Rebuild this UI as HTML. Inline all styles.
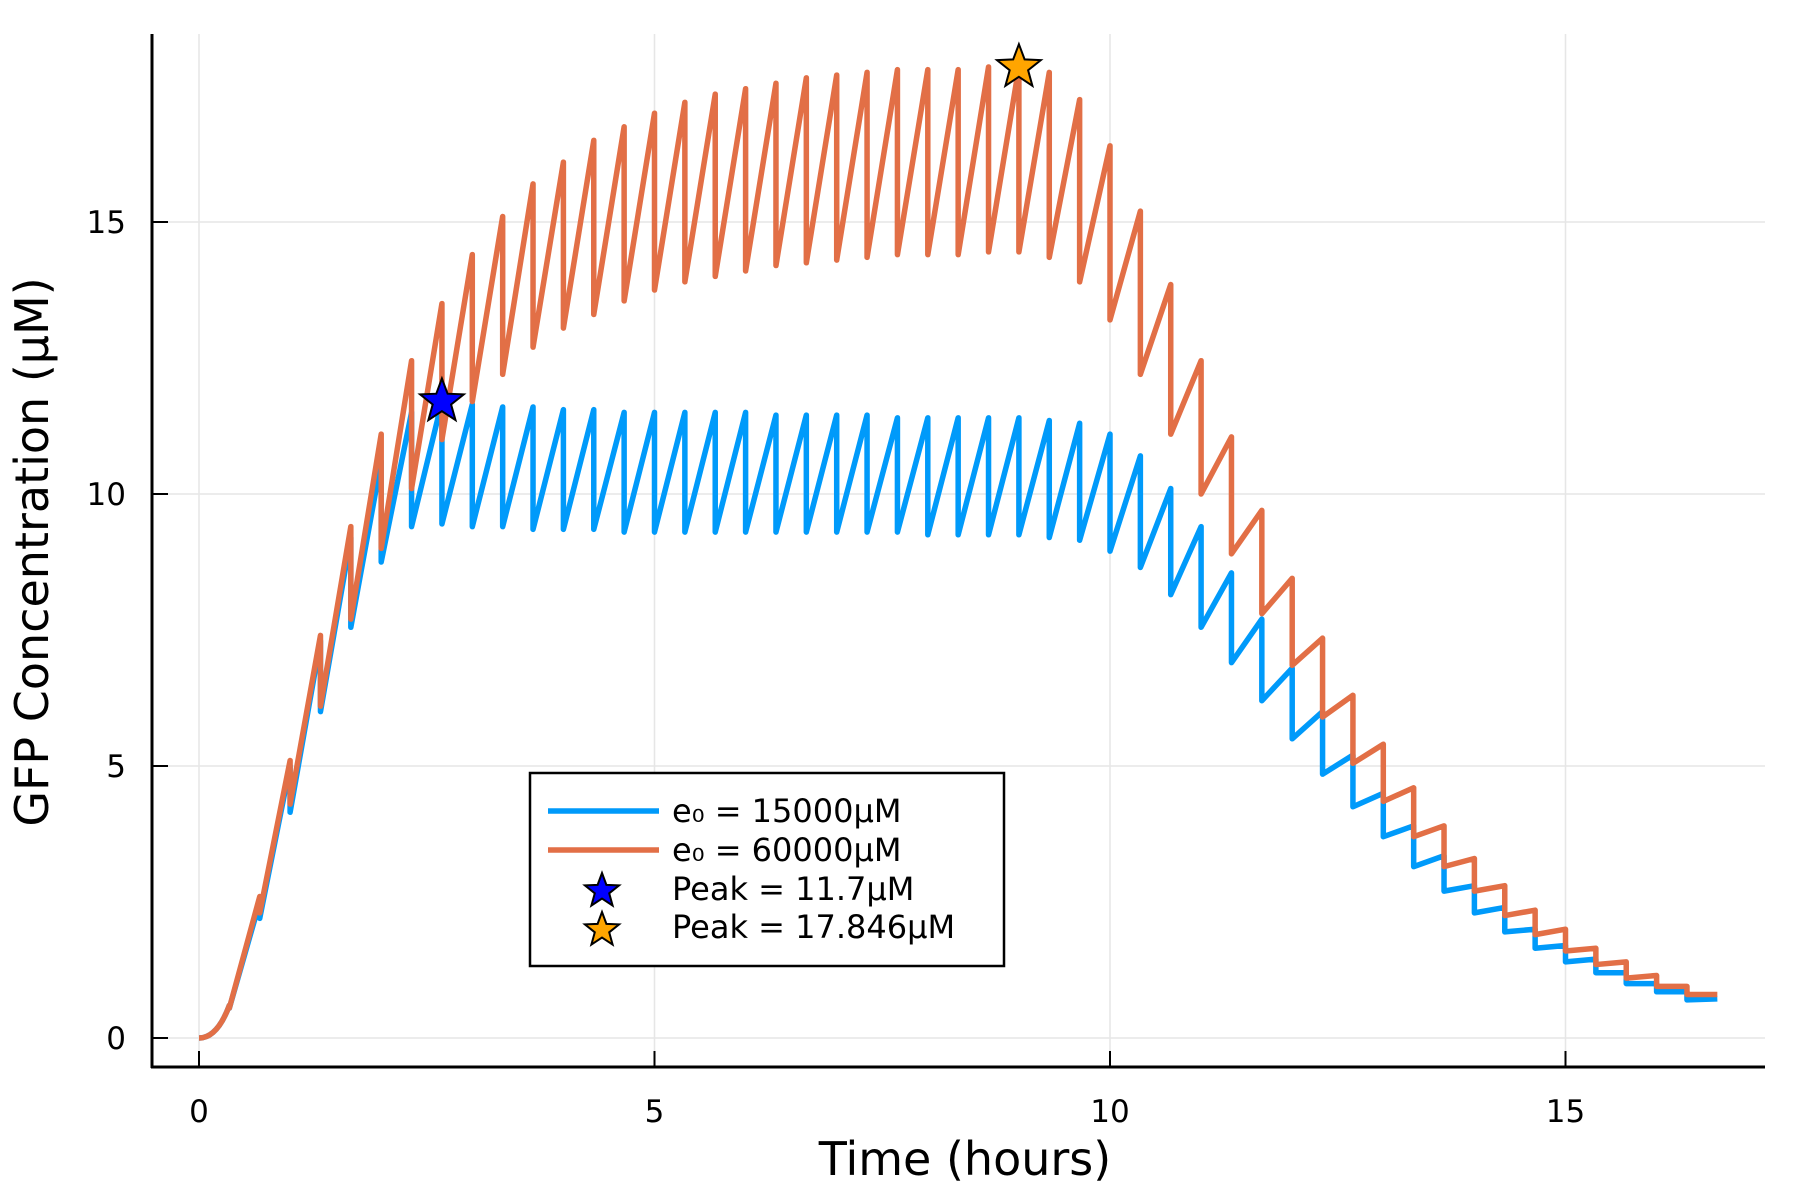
<!DOCTYPE html>
<html><head><meta charset="utf-8"><style>
html,body{margin:0;padding:0;background:#fff;}
svg{display:block;font-family:"DejaVu Sans","Liberation Sans",sans-serif;}
</style></head><body>
<svg id="chart" width="1800" height="1200" viewBox="0 0 1800 1200">
<g id="grid"></g>
<g id="series"></g>
<g id="axes"></g>
<text x="965" y="1175" font-size="46" text-anchor="middle">Time (hours)</text>
<text transform="translate(48,552) rotate(-90)" font-size="46" text-anchor="middle">GFP Concentration (μM)</text>
<g>
<rect x="530" y="773" width="474" height="193" fill="#fff" stroke="#000" stroke-width="2.5"/>
<line x1="548" y1="811" x2="659" y2="811" stroke="#009AFA" stroke-width="5.5"/>
<text x="672" y="822" font-size="32">e₀ = 15000μM</text>
<line x1="548" y1="850" x2="659" y2="850" stroke="#E26F46" stroke-width="5.5"/>
<text x="672" y="861" font-size="32">e₀ = 60000μM</text>
<g id="legstar1"></g>
<text x="672" y="900" font-size="32">Peak = 11.7μM</text>
<g id="legstar2"></g>
<text x="672" y="938" font-size="32">Peak = 17.846μM</text>
</g>
</svg>
<script>
const xTicks=[0,5,10,15];
const yTicks=[0,5,10,15];
const orangePeaks=[0.6,2.6,5.1,7.4,9.4,11.1,12.45,13.5,14.4,15.1,15.7,16.1,16.5,16.75,17.0,17.2,17.35,17.45,17.55,17.65,17.7,17.75,17.8,17.8,17.8,17.85,17.85,17.75,17.25,16.4,15.2,13.85,12.45,11.05,9.7,8.45,7.35,6.3,5.4,4.6,3.9,3.3,2.8,2.35,2.0,1.65,1.4,1.15,0.95,0.8];
const orangeTroughs=[0.55,2.3,4.3,6.1,7.7,9.0,10.1,11.0,11.7,12.2,12.7,13.05,13.3,13.55,13.75,13.9,14.0,14.1,14.2,14.25,14.3,14.35,14.4,14.4,14.4,14.45,14.45,14.35,13.9,13.2,12.2,11.1,10.0,8.9,7.8,6.85,5.9,5.05,4.35,3.7,3.15,2.7,2.25,1.9,1.6,1.35,1.1,0.95,0.8];
const bluePeaks=[0.6,2.5,5.0,7.3,9.2,10.6,11.5,11.7,11.65,11.6,11.6,11.55,11.55,11.5,11.5,11.5,11.5,11.5,11.45,11.45,11.45,11.45,11.4,11.4,11.4,11.4,11.4,11.35,11.3,11.1,10.7,10.1,9.4,8.55,7.7,6.8,6.0,5.2,4.5,3.9,3.35,2.8,2.4,2.0,1.7,1.45,1.2,1.0,0.85,0.72];
const blueTroughs=[0.55,2.2,4.15,6.0,7.55,8.75,9.4,9.45,9.4,9.4,9.35,9.35,9.35,9.3,9.3,9.3,9.3,9.3,9.3,9.3,9.3,9.3,9.3,9.25,9.25,9.25,9.25,9.2,9.15,8.95,8.65,8.15,7.55,6.9,6.2,5.5,4.85,4.25,3.7,3.15,2.7,2.3,1.95,1.65,1.4,1.2,1.0,0.85,0.7];
const dosePeriod=1/3;
const peakTimes=[2.6667,9.0];
const peakValues=[11.7,17.846];

const NS="http://www.w3.org/2000/svg";
const L=152,R=1765,T=34,B=1067;
function X(t){return 199+t*91.1;}
function Y(v){return 1038-v*54.4;}
function mk(tag,attrs,parent){const e=document.createElementNS(NS,tag);for(const k in attrs)e.setAttribute(k,attrs[k]);parent.appendChild(e);return e;}
const grid=document.getElementById('grid'),axes=document.getElementById('axes'),series=document.getElementById('series');
xTicks.forEach(t=>{
  const g=mk('line',{x1:X(t),x2:X(t),y1:T,y2:B,stroke:'#e6e6e6','stroke-width':1.5},grid);
  
  
  const tk=mk('line',{x1:X(t),x2:X(t),y1:B,y2:B-16,stroke:'#000','stroke-width':2},axes);
  
  
  const tx=mk('text',{x:X(t),y:1122,'font-size':31,'text-anchor':'middle'},axes);
  tx.textContent=t;
  
  
});
yTicks.forEach(v=>{
  const g=mk('line',{x1:L,x2:R,y1:Y(v),y2:Y(v),stroke:'#e6e6e6','stroke-width':1.5},grid);
  
  
  const tk=mk('line',{x1:L,x2:L+16,y1:Y(v),y2:Y(v),stroke:'#000','stroke-width':2},axes);
  
  
  const tx=mk('text',{x:126,y:Y(v)+11,'font-size':31,'text-anchor':'end'},axes);
  tx.textContent=v;
  
  
});
const ax1=mk('line',{x1:L,x2:L,y1:T,y2:B+1,stroke:'#000','stroke-width':3},axes);


const ax2=mk('line',{x1:L-1,x2:R,y1:B,y2:B,stroke:'#000','stroke-width':3},axes);



function buildPath(peaks,troughs){
  let d='M'+X(0)+','+Y(0);
  d+=' Q'+X(dosePeriod*0.6)+','+Y(0)+' '+X(dosePeriod)+','+Y(peaks[0]);
  for(let k=0;k<peaks.length;k++){
    const t=(k+1)*dosePeriod;
    if(k>0)d+=' L'+X(t)+','+Y(peaks[k]);
    if(k<troughs.length)d+=' L'+X(t)+','+Y(troughs[k]);
  }
  return d;
}
const pb=mk('path',{d:buildPath(bluePeaks,blueTroughs),fill:'none',stroke:'#009AFA','stroke-width':5.5,'stroke-linejoin':'round'},series);


const po=mk('path',{d:buildPath(orangePeaks,orangeTroughs),fill:'none',stroke:'#E26F46','stroke-width':5.5,'stroke-linejoin':'round'},series);



function star(cx,cy,r,fill,parent){
  let pts=[];
  for(let i=0;i<10;i++){const a=-Math.PI/2+i*Math.PI/5;const rr=i%2?r*0.42:r;pts.push((cx+rr*Math.cos(a)).toFixed(1)+','+(cy+rr*Math.sin(a)).toFixed(1));}
  return mk('polygon',{points:pts.join(' '),fill:fill,stroke:'#000','stroke-width':2},parent);
}
const colors=['#0000FF','#FFA500'];
peakTimes.forEach((t,i)=>{
  const s=star(X(t),Y(peakValues[i]),23,colors[i],series);
  
  
});
star(602,891,18,'#0000FF',document.getElementById('legstar1'));
star(602,930,18,'#FFA500',document.getElementById('legstar2'));
</script>
</body></html>
